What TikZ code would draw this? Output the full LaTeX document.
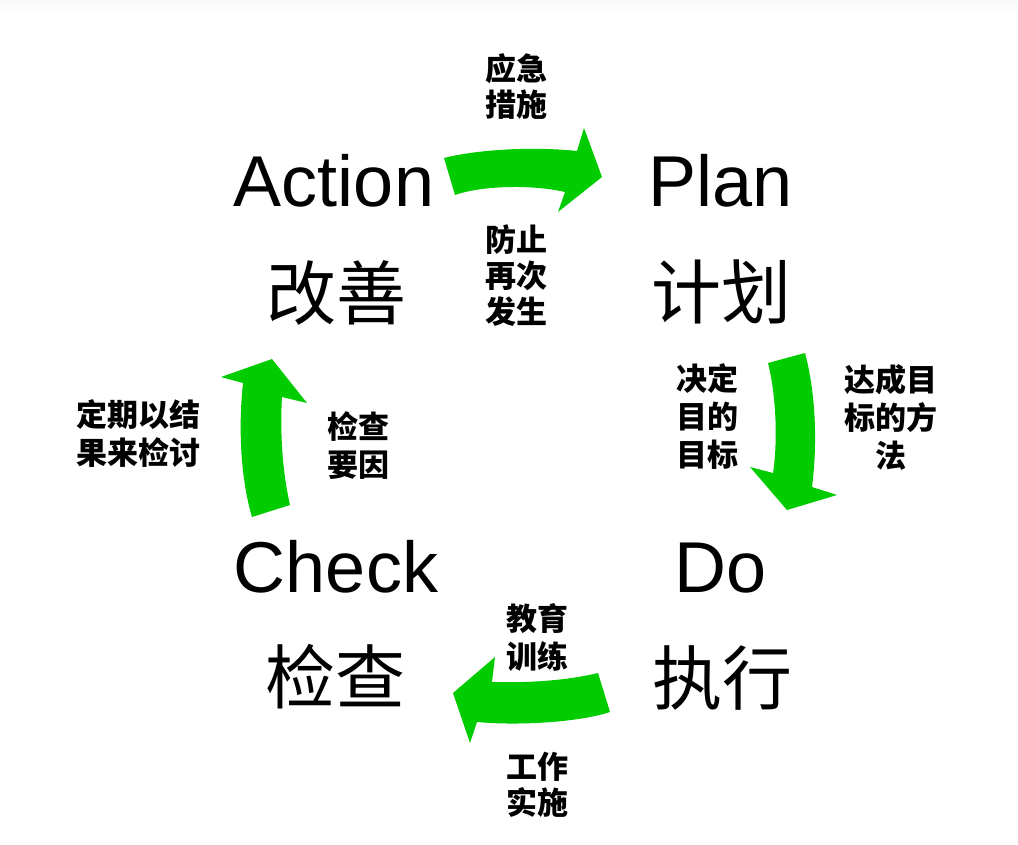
\documentclass[tikz,border=0pt]{standalone}
\usepackage{fontspec}
\setmainfont{Liberation Sans}
\newfontfamily\cjk{Noto Sans CJK SC}
\definecolor{pdcagreen}{RGB}{0,204,0}
\definecolor{topgray}{RGB}{248,248,248}
\tikzset{
  bigword/.style={inner sep=0pt, anchor=base, font=\fontsize{72}{72}\selectfont},
  bigcjk/.style={inner sep=0pt, font=\cjk\fontsize{70}{70}\selectfont},
  smallcjk/.style={inner sep=0pt, align=center, font=\cjk\bfseries\fontsize{31}{36}\selectfont},
  smallcjkwide/.style={smallcjk, font=\cjk\bfseries\fontsize{31}{38}\selectfont},
  bigarrow/.style={fill=pdcagreen, draw=none}
}
\begin{document}
\begin{tikzpicture}[x=1pt,y=-1pt]
\useasboundingbox (0,0) rectangle (1018,845);
\fill[white] (0,0) rectangle (1018,845);
\shade[top color=topgray, bottom color=white] (0,0) rectangle (1018,14);

% big English words
\node[bigword] (action) at (334,207) {Action};
\node[bigword] (plan) at (721,207) {Plan};
\node[bigword] (check) at (336,592) {Check};
\node[bigword] (do) at (721,592) {Do};

% big Chinese words
\node[bigcjk] (gaishan) at (336,293) {改善};
\node[bigcjk] (jihua) at (721,292) {计划};
\node[bigcjk] (jiancha) at (335,677) {检查};
\node[bigcjk] (zhixing) at (722,678) {执行};

% small labels
\node[smallcjk] (t1) at (516,86) {应急\\措施};
\node[smallcjk] (t2) at (516,276) {防止\\再次\\发生};
\node[smallcjkwide] (r1) at (707,417) {决定\\目的\\目标};
\node[smallcjkwide] (r2) at (891,417) {达成目\\标的方\\法};
\node[smallcjkwide] (l1) at (138,434) {定期以结\\果来检讨};
\node[smallcjkwide] (l2) at (358,446) {检查\\要因};
\node[smallcjkwide] (b1) at (537,637) {教育\\训练};
\node[smallcjk] (b2) at (537,785) {工作\\实施};

% top arrow (Action -> Plan)
\fill[bigarrow] (444,158) .. controls (475,150) and (530,146) .. (577,151)
  -- (584,128) -- (602,177) -- (558,212) -- (565,192)
  .. controls (530,184) and (480,186) .. (455,195) -- cycle;

% right arrow (Plan -> Do)
\fill[bigarrow] (768,363) -- (805,353) .. controls (815,390) and (818,440) .. (812,487)
  -- (837,495) -- (787,510) -- (750,467) -- (773,473)
  .. controls (778,440) and (776,395) .. (768,363) -- cycle;

% bottom arrow (Do -> Check)
\fill[bigarrow] (598,673) -- (610,712) .. controls (580,722) and (520,726) .. (477,722)
  -- (470,743) -- (453,693) -- (495,657) -- (492,682)
  .. controls (525,683) and (565,681) .. (598,673) -- cycle;

% left arrow (Check -> Action)
\fill[bigarrow] (252,517) -- (290,505) .. controls (282,470) and (280,430) .. (282,397)
  -- (307,403) -- (272,359) -- (221,377) -- (243,383)
  .. controls (238,430) and (241,480) .. (252,517) -- cycle;
\end{tikzpicture}
\end{document}
